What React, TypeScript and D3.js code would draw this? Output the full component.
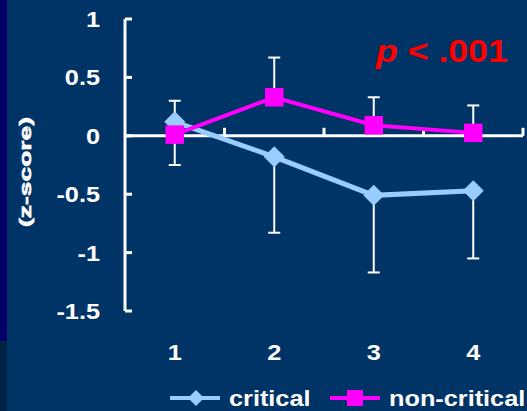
import React from "react";
import * as d3 from "d3";

const categories = ["1", "2", "3", "4"];
const critical = [0.12, -0.18, -0.51, -0.47];
const criticalErrLow = [-0.25, -0.83, -1.17, -1.05];
const nonCritical = [0.01, 0.33, 0.09, 0.025];
const nonCriticalErrHigh = [0.3, 0.67, 0.33, 0.26];
const yTicks = [1, 0.5, 0, -0.5, -1, -1.5];
const seriesNames = ["critical", "non-critical"];

const W = 527;
const H = 411;
const BG = "#003366";
const BLUE = "#99CCFF";
const MAG = "#FF00FF";
const FONT = "Arial, 'Liberation Sans', sans-serif";

export default function App() {
  const x = d3.scaleBand<string>().domain(categories).range([125, 523]);
  const y = d3.scaleLinear().domain([-1.5, 1]).range([311, 19]);
  const cx = (c: string) => (x(c) as number) + x.bandwidth() / 2;
  const line = d3
    .line<number>()
    .x((_, i) => cx(categories[i]))
    .y((d) => y(d));
  const diamond = (px: number, py: number, r = 10.5) =>
    `M${px},${py - r}L${px + r},${py}L${px},${py + r}L${px - r},${py}Z`;
  const sq = 18.5;
  const cap = 6;
  const y0 = y(0);

  return (
    <svg
      width={W}
      height={H}
      style={{ position: "absolute", left: 0, top: 0, display: "block" }}
    >
      <rect x={0} y={0} width={W} height={H} fill={BG} />
      <rect x={0} y={0} width={7} height={341} fill="#000066" />
      <rect x={0} y={341} width={7} height={70} fill="#002244" />

      {/* y axis */}
      <line x1={125} x2={125} y1={y(1)} y2={y(-1.5)} stroke="white" strokeWidth={3} />
      {yTicks.map((t) => (
        <line key={"yt" + t} x1={125} x2={132} y1={y(t)} y2={y(t)} stroke="white" strokeWidth={3} />
      ))}
      {yTicks.map((t) => (
        <g key={"yl" + t} transform={`translate(100,${y(t) + 8}) scale(1.15,1)`}>
          <text textAnchor="end" fill="white" fontSize={22} fontWeight="bold" fontFamily={FONT}>
            {String(t)}
          </text>
        </g>
      ))}
      {/* x axis */}
      <line x1={125} x2={523} y1={y0} y2={y0} stroke="white" strokeWidth={3} />
      {categories.map((c) => (
        <line
          key={"xt" + c}
          x1={(x(c) as number) + x.bandwidth()}
          x2={(x(c) as number) + x.bandwidth()}
          y1={y0}
          y2={y0 - 8}
          stroke="white"
          strokeWidth={3}
        />
      ))}
      {categories.map((c) => (
        <g key={"xl" + c} transform={`translate(${cx(c)},${360}) scale(1.15,1)`}>
          <text textAnchor="middle" fill="white" fontSize={22} fontWeight="bold" fontFamily={FONT}>
            {c}
          </text>
        </g>
      ))}

      {/* y axis title */}
      <text
        transform="translate(31,172) rotate(-90)"
        textAnchor="middle"
        fill="white"
        stroke="white"
        strokeWidth={0.6}
        fontSize={17}
        fontWeight="bold"
        fontFamily={FONT}
        textLength={110}
        lengthAdjust="spacingAndGlyphs"
      >
        (z-score)
      </text>

      {/* error bars */}
      {categories.map((c, i) => (
        <g key={"eb" + c} stroke="white" strokeWidth={2}>
          <line x1={cx(c)} x2={cx(c)} y1={y(critical[i])} y2={y(criticalErrLow[i])} />
          <line x1={cx(c) - cap} x2={cx(c) + cap} y1={y(criticalErrLow[i])} y2={y(criticalErrLow[i])} />
          <line x1={cx(c)} x2={cx(c)} y1={y(nonCritical[i])} y2={y(nonCriticalErrHigh[i])} />
          <line x1={cx(c) - cap} x2={cx(c) + cap} y1={y(nonCriticalErrHigh[i])} y2={y(nonCriticalErrHigh[i])} />
        </g>
      ))}

      {/* critical series */}
      <path d={line(critical) as string} fill="none" stroke={BLUE} strokeWidth={5} />
      {critical.map((v, i) => (
        <path key={"cd" + i} d={diamond(cx(categories[i]), y(v))} fill={BLUE} />
      ))}

      {/* non-critical series */}
      <path d={line(nonCritical) as string} fill="none" stroke={MAG} strokeWidth={4} />
      {nonCritical.map((v, i) => (
        <rect
          key={"ns" + i}
          x={cx(categories[i]) - sq / 2}
          y={y(v) - sq / 2}
          width={sq}
          height={sq}
          fill={MAG}
        />
      ))}

      {/* p value */}
      <g transform="translate(376,62) scale(1.15,1)">
        <text fill="#FF0000" fontSize={31} fontWeight="bold" fontFamily={FONT}>
          <tspan fontStyle="italic">p</tspan>
          {" < .001"}
        </text>
      </g>

      {/* legend */}
      <line x1={170} x2={220} y1={398} y2={398} stroke={BLUE} strokeWidth={4} />
      <path d={diamond(196, 398, 8)} fill={BLUE} />
      <g transform="translate(229,406) scale(1.15,1)">
        <text fill="white" fontSize={22} fontWeight="bold" fontFamily={FONT}>
          {seriesNames[0]}
        </text>
      </g>
      <line x1={330} x2={380} y1={398} y2={398} stroke={MAG} strokeWidth={4} />
      <rect x={355 - 8} y={398 - 8} width={16} height={16} fill={MAG} />
      <g transform="translate(389,406) scale(1.15,1)">
        <text fill="white" fontSize={22} fontWeight="bold" fontFamily={FONT}>
          {seriesNames[1]}
        </text>
      </g>
    </svg>
  );
}
